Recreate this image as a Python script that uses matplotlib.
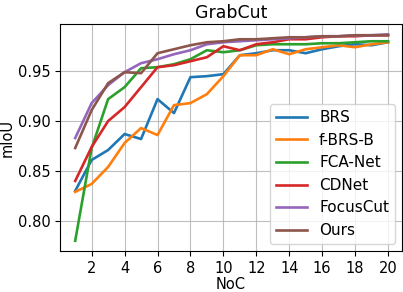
import matplotlib
matplotlib.use("Agg")
import matplotlib.pyplot as plt

noc = list(range(1, 21))
brs = [0.830, 0.861, 0.871, 0.887, 0.882, 0.922, 0.908, 0.944, 0.945, 0.947,
       0.966, 0.968, 0.971, 0.971, 0.968, 0.972, 0.975, 0.977, 0.976, 0.979]
fbrs = [0.829, 0.837, 0.854, 0.878, 0.893, 0.886, 0.916, 0.918, 0.927, 0.945,
        0.966, 0.966, 0.972, 0.967, 0.972, 0.974, 0.976, 0.974, 0.977, 0.979]
fca = [0.780, 0.873, 0.922, 0.934, 0.953, 0.954, 0.957, 0.962, 0.971, 0.969,
       0.971, 0.976, 0.977, 0.977, 0.977, 0.978, 0.978, 0.979, 0.980, 0.980]
cdnet = [0.840, 0.874, 0.900, 0.914, 0.934, 0.954, 0.956, 0.960, 0.964, 0.975,
         0.971, 0.977, 0.979, 0.982, 0.982, 0.984, 0.985, 0.985, 0.986, 0.986]
focus = [0.883, 0.918, 0.936, 0.949, 0.958, 0.962, 0.967, 0.971, 0.977, 0.979,
         0.980, 0.981, 0.982, 0.983, 0.984, 0.985, 0.985, 0.986, 0.986, 0.987]
ours = [0.873, 0.911, 0.938, 0.949, 0.948, 0.968, 0.972, 0.976, 0.979, 0.980,
        0.982, 0.982, 0.983, 0.984, 0.984, 0.985, 0.985, 0.986, 0.986, 0.986]

series = [("BRS", brs), ("f-BRS-B", fbrs), ("FCA-Net", fca),
          ("CDNet", cdnet), ("FocusCut", focus), ("Ours", ours)]

plt.rcParams['font.size'] = 10.5
fig = plt.figure(figsize=(4.03, 2.92), dpi=100)
ax = fig.add_axes([60/403, 0.140, 342/403, 0.778])
for name, vals in series:
    ax.plot(noc, vals, label=name, lw=1.9)
ax.set_xlim(0.077, 20.85)
ax.set_xticks(list(range(2, 21, 2)))
ax.set_yticks([0.80, 0.85, 0.90, 0.95])
ax.grid(True, color='#b0b0b0', lw=0.8, alpha=0.8)
ax.set_xlabel("NoC", labelpad=1)
ax.set_ylabel("mIoU", labelpad=2)
ax.set_title("GrabCut", pad=4, fontsize=12.5)
ax.legend(loc='lower right', fontsize=11, borderaxespad=0.45)
fig.savefig("out.png", dpi=100)
